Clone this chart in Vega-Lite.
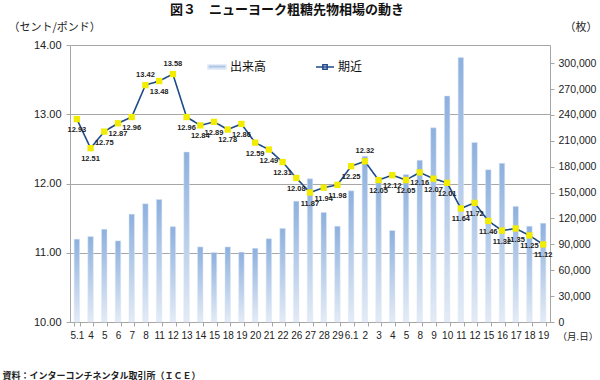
{
  "$schema": "https://vega.github.io/schema/vega-lite/v6.json",
  "width": 480,
  "height": 277,
  "autosize": {"type": "none"},
  "padding": {"left": 70, "top": 45, "right": 50, "bottom": 58},
  "title": {
    "text": "図３　ニューヨーク粗糖先物相場の動き",
    "font": "Noto Sans CJK JP",
    "fontSize": 13,
    "fontWeight": "bold",
    "color": "#111111",
    "anchor": "middle",
    "frame": "group",
    "dx": -23,
    "offset": 4
  },
  "config": {
    "view": {"stroke": null},
    "font": "Liberation Sans",
    "axis": {"labelFont": "Liberation Sans", "titleFont": "Noto Sans CJK JP", "labelColor": "#222222", "titleColor": "#222222"}
  },
  "data": {
    "values": [
      {"date": "5.1", "price": 12.93, "volume": 96000},
      {"date": "5.4", "price": 12.51, "volume": 99000},
      {"date": "5.5", "price": 12.75, "volume": 107500},
      {"date": "5.6", "price": 12.87, "volume": 94000},
      {"date": "5.7", "price": 12.96, "volume": 125000},
      {"date": "5.8", "price": 13.42, "volume": 137000},
      {"date": "5.11", "price": 13.48, "volume": 142000},
      {"date": "5.12", "price": 13.58, "volume": 110500},
      {"date": "5.13", "price": 12.96, "volume": 197000},
      {"date": "5.14", "price": 12.84, "volume": 87000},
      {"date": "5.15", "price": 12.89, "volume": 80500},
      {"date": "5.18", "price": 12.78, "volume": 87000},
      {"date": "5.19", "price": 12.86, "volume": 81000},
      {"date": "5.20", "price": 12.59, "volume": 85500},
      {"date": "5.21", "price": 12.49, "volume": 96500},
      {"date": "5.22", "price": 12.31, "volume": 108500},
      {"date": "5.26", "price": 12.08, "volume": 140000},
      {"date": "5.27", "price": 11.87, "volume": 166000},
      {"date": "5.28", "price": 11.94, "volume": 127000},
      {"date": "5.29", "price": 11.98, "volume": 111000},
      {"date": "6.1", "price": 12.25, "volume": 152000},
      {"date": "6.2", "price": 12.32, "volume": 192000},
      {"date": "6.3", "price": 12.05, "volume": 167000},
      {"date": "6.4", "price": 12.12, "volume": 106000},
      {"date": "6.5", "price": 12.05, "volume": 171000},
      {"date": "6.8", "price": 12.16, "volume": 187500},
      {"date": "6.9", "price": 12.07, "volume": 225000},
      {"date": "6.10", "price": 12.01, "volume": 262000},
      {"date": "6.11", "price": 11.64, "volume": 306500},
      {"date": "6.12", "price": 11.72, "volume": 208000},
      {"date": "6.15", "price": 11.46, "volume": 176500},
      {"date": "6.16", "price": 11.32, "volume": 184000},
      {"date": "6.17", "price": 11.35, "volume": 134000},
      {"date": "6.18", "price": 11.25, "volume": 111000},
      {"date": "6.19", "price": 11.12, "volume": 114500}
    ]
  },
  "layer": [
    {
      "mark": {
        "type": "bar",
        "fill": {
          "gradient": "linear",
          "x1": 0, "y1": 0, "x2": 0, "y2": 1,
          "stops": [
            {"offset": 0, "color": "#8db0de"},
            {"offset": 1, "color": "#e3ebf6"}
          ]
        },
        "stroke": "#dde7f4",
        "strokeWidth": 0.5
      },
      "encoding": {
        "x": {
          "field": "date", "type": "nominal", "sort": null,
          "scale": {"paddingInner": 0.6, "paddingOuter": 0.3},
          "axis": {
            "orient": "bottom",
            "labelAngle": 0,
            "labelFontSize": 10,
            "labelPadding": 4,
            "labelOverlap": false,
            "labelExpr": "(datum.value == '5.1' || datum.value == '6.1') ? datum.value : split(datum.value, '.')[1]",
            "tickBand": "extent",
            "tickSize": 4,
            "tickColor": "#a6a6a6",
            "domainColor": "#a6a6a6",
            "grid": false,
            "title": "（月.日）",
            "titleFontSize": 9.5,
            "titleFontWeight": "normal",
            "titleAngle": 0,
            "titleAlign": "left",
            "titleBaseline": "middle",
            "titleX": 487,
            "titleY": 14
          }
        },
        "y": {
          "field": "volume", "type": "quantitative",
          "scale": {"domain": [0, 321000], "nice": false, "zero": true},
          "axis": {
            "orient": "right",
            "values": [0, 30000, 60000, 90000, 120000, 150000, 180000, 210000, 240000, 270000, 300000],
            "labelExpr": "format(datum.value, ',.0f')",
            "grid": false,
            "labelFontSize": 10.5,
            "labelPadding": 4,
            "tickSize": 4,
            "tickColor": "#a6a6a6",
            "domainColor": "#a6a6a6",
            "title": "（枚）",
            "titleFontSize": 11,
            "titleFontWeight": "normal",
            "titleAngle": 0,
            "titleAlign": "left",
            "titleBaseline": "middle",
            "titleX": 14,
            "titleY": -18
          }
        },
        "opacity": {
          "datum": "出来高", "type": "nominal",
          "scale": {"range": [1]},
          "legend": {
            "orient": "none",
            "legendX": 137,
            "legendY": 12,
            "title": null,
            "padding": 0,
            "symbolType": "M-1,-0.22L1,-0.22L1,0.22L-1,0.22Z",
            "symbolSize": 324,
            "labelFont": "Noto Sans CJK JP",
            "labelFontSize": 12,
            "labelColor": "#111111",
            "labelOffset": 3,
            "encode": {"symbols": {"update": {"fill": {"value": "#a9c3e6"}, "stroke": {"value": "transparent"}, "opacity": {"value": 1}}}}
          }
        }
      }
    },
    {
      "layer": [
        {
          "mark": {"type": "line", "color": "#1f4a8a", "strokeWidth": 1.6},
          "encoding": {
            "x": {
              "field": "date", "type": "nominal", "sort": null,
              "axis": {
                "orient": "bottom",
                "labels": false, "ticks": false, "domain": false, "grid": false,
                "title": "資料：インターコンチネンタル取引所（ＩＣＥ）",
                "titleFontSize": 9,
                "titleFontWeight": "bold",
                "titleAlign": "left",
                "titleBaseline": "middle",
                "titleAngle": 0,
                "titleX": -68,
                "titleY": 53
              }
            },
            "y": {
              "field": "price", "type": "quantitative",
              "scale": {"domain": [10, 14], "nice": false, "zero": false},
              "axis": {
                "orient": "left",
                "values": [10, 11, 12, 13, 14],
                "format": ".2f",
                "grid": true,
                "gridColor": "#a6a6a6",
                "gridWidth": 1,
                "labelFontSize": 11,
                "labelPadding": 5,
                "tickSize": 4,
                "tickColor": "#a6a6a6",
                "domainColor": "#a6a6a6",
                "title": "（セント/ポンド）",
                "titleFontSize": 11,
                "titleFontWeight": "normal",
                "titleAngle": 0,
                "titleAlign": "left",
                "titleBaseline": "middle",
                "titleX": -62,
                "titleY": -18
              }
            },
            "strokeDash": {
              "datum": "期近", "type": "nominal",
              "scale": {"range": [[1, 0]]},
              "legend": {
                "orient": "none",
                "legendX": 245,
                "legendY": 12,
                "title": null,
                "padding": 0,
                "symbolType": "M-1,0L1,0M-0.24,-0.24L0.24,-0.24L0.24,0.24L-0.24,0.24Z",
                "symbolSize": 324,
                "labelFont": "Noto Sans CJK JP",
                "labelFontSize": 12,
                "labelColor": "#111111",
                "labelOffset": 3,
                "encode": {"symbols": {"update": {"fill": {"value": "#f2ec00"}, "stroke": {"value": "#1f4a8a"}, "strokeWidth": {"value": 1}, "strokeDash": {"value": [1, 0]}}}}
              }
            }
          }
        },
        {
          "mark": {"type": "point", "shape": "square", "filled": true, "color": "#f2ec00", "size": 40, "opacity": 1},
          "encoding": {
            "x": {"field": "date", "type": "nominal", "sort": null},
            "y": {"field": "price", "type": "quantitative"}
          }
        },
        {
          "transform": [{"filter": "datum.date != '5.8' && datum.date != '5.12' && datum.date != '6.2'"}],
          "mark": {"type": "text", "fontSize": 7.5, "fontWeight": "bold", "color": "#222222", "dy": 11, "font": "Liberation Sans"},
          "encoding": {
            "x": {"field": "date", "type": "nominal", "sort": null},
            "y": {"field": "price", "type": "quantitative"},
            "text": {"field": "price", "type": "quantitative", "format": ".2f"}
          }
        },
        {
          "transform": [{"filter": "datum.date == '5.8' || datum.date == '5.12' || datum.date == '6.2'"}],
          "mark": {"type": "text", "fontSize": 7.5, "fontWeight": "bold", "color": "#222222", "dy": -10, "font": "Liberation Sans"},
          "encoding": {
            "x": {"field": "date", "type": "nominal", "sort": null},
            "y": {"field": "price", "type": "quantitative"},
            "text": {"field": "price", "type": "quantitative", "format": ".2f"}
          }
        }
      ]
    }
  ],
  "resolve": {"scale": {"y": "independent", "opacity": "independent", "strokeDash": "independent"}, "axis": {"x": "independent"}, "legend": {"opacity": "independent", "strokeDash": "independent"}}
}
